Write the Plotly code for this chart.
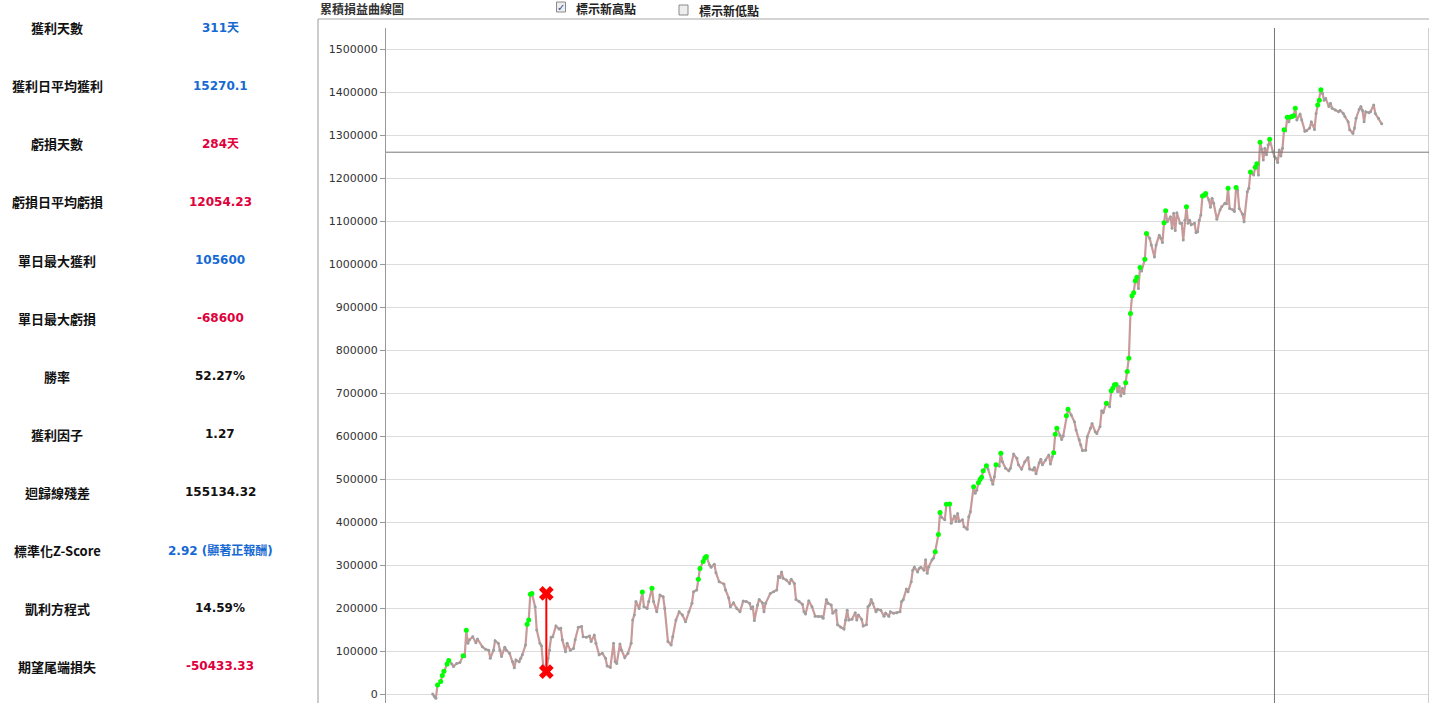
import plotly.graph_objects as go

# ---------------- data ----------------
stat_labels = ["獲利天數", "獲利日平均獲利", "虧損天數", "虧損日平均虧損", "單日最大獲利", "單日最大虧損",
               "勝率", "獲利因子", "迴歸線殘差", "標準化Z-Score", "凱利方程式", "期望尾端損失"]
stat_values = ["311天", "15270.1", "284天", "12054.23", "105600", "-68600",
               "52.27%", "1.27", "155134.32", "2.92 (顯著正報酬)", "14.59%", "-50433.33"]
stat_tone = ["pos", "pos", "neg", "neg", "pos", "neg", "neutral", "neutral", "neutral", "pos", "neutral", "neg"]

chart_title = "累積損益曲線圖"
opt_high = "標示新高點"
opt_low = "標示新低點"

days = [0, 1, 2, 3, 5, 6, 7, 9, 10, 12, 13, 15, 17, 19, 20, 21, 22, 23, 25, 27, 28, 31, 33, 35, 36, 38, 39, 41, 42, 43,
        45, 46, 48, 50, 51, 52, 54, 55, 56, 58, 59, 60, 61, 62, 64, 65, 67, 68, 69, 71, 72, 73, 74, 75, 77, 79, 80, 81,
        83, 84, 86, 88, 89, 91, 93, 94, 96, 98, 99, 101, 102, 104, 106, 108, 109, 111, 113, 114, 115, 117, 118, 120,
        122, 124, 125, 126, 127, 129, 131, 132, 134, 135, 137, 138, 140, 142, 144, 145, 147, 149, 150, 152, 154,
        156, 158, 160, 162, 163, 165, 166, 167, 169, 170, 171, 173, 174, 176, 177, 179, 182, 183, 185, 186, 188,
        190, 192, 194, 196, 198, 199, 200, 201, 203, 204, 206, 207, 208, 211, 213, 215, 216, 217, 218, 219, 221,
        223, 224, 226, 227, 229, 231, 232, 233, 235, 237, 239, 241, 243, 244, 246, 247, 249, 250, 252, 253, 255,
        257, 258, 259, 260, 262, 264, 265, 266, 268, 269, 271, 272, 273, 274, 275, 277, 278, 280, 282, 283, 285,
        286, 288, 290, 292, 293, 294, 296, 297, 299, 300, 301, 303, 304, 305, 307, 308, 309, 310, 312, 313, 314,
        316, 317, 318, 320, 321, 323, 324, 326, 327, 328, 329, 331, 332, 334, 335, 336, 338, 339, 340, 341, 342,
        343, 344, 346, 347, 349, 350, 351, 352, 354, 355, 356, 358, 360, 361, 363, 365, 366, 368, 370, 372, 373,
        375, 376, 377, 379, 380, 381, 383, 385, 386, 387, 388, 389, 390, 392, 393, 394, 396, 397, 399, 401, 402,
        404, 405, 406, 408, 409, 411, 412, 414, 415, 417, 418, 419, 421, 423, 424, 425, 426, 427, 428, 429, 430,
        431, 432, 433, 434, 435, 436, 437, 438, 439, 440, 441, 442, 443, 445, 446, 448, 449, 451, 452, 454, 455,
        456, 457, 458, 459, 461, 462, 463, 464, 465, 467, 468, 469, 470, 471, 472, 473, 474, 476, 477, 478, 479,
        480, 481, 482, 483, 485, 486, 487, 488, 490, 492, 493, 495, 496, 497, 498, 500, 501, 502, 503, 504, 506,
        507, 509, 510, 511, 513, 514, 515, 516, 517, 518, 519, 520, 521, 522, 523, 525, 526, 527, 528, 529, 530,
        531, 532, 533, 534, 535, 536, 537, 538, 539, 540, 542, 543, 545, 546, 548, 549, 551, 552, 553, 554, 555,
        556, 557, 558, 560, 561, 562, 564, 566, 567, 569, 570, 572, 573, 575, 576, 577, 579, 580, 581, 582, 583,
        585, 586, 588, 589, 591, 593]

equity = [0, -6000, -10000, 21000, 29000, 43000, 53000, 70000, 78000, 70000, 64000, 71000, 73000, 89000, 87000,
          148000, 118000, 126000, 133000, 119000, 128000, 110000, 104000, 102000, 83000, 102000, 124000, 118000,
          102000, 87000, 109000, 102000, 95000, 75000, 61000, 79000, 75000, 83000, 91000, 114000, 162000, 172000,
          232000, 234000, 203000, 149000, 118000, 112000, 67000, 52000, 83000, 102000, 132000, 133000, 158000,
          151000, 153000, 126000, 98000, 118000, 102000, 106000, 126000, 155000, 157000, 133000, 132000, 135000,
          122000, 137000, 118000, 91000, 95000, 83000, 65000, 62000, 118000, 75000, 71000, 116000, 102000, 85000,
          95000, 118000, 172000, 184000, 215000, 199000, 237000, 203000, 199000, 215000, 246000, 215000, 191000,
          230000, 226000, 199000, 122000, 114000, 133000, 172000, 191000,
          184000, 168000, 191000, 211000, 238000, 242000, 267000, 292000, 308000, 316000, 320000, 300000, 295000,
          302000, 282000, 261000, 256000, 242000, 223000, 203000, 212000, 199000, 191000, 216000, 215000, 211000,
          199000, 203000, 171000, 207000, 220000, 212000, 191000, 211000, 234000, 238000, 242000, 273000, 271000,
          284000, 269000, 265000, 257000, 267000, 257000, 220000, 215000, 209000, 191000, 186000, 217000, 203000,
          181000, 180000, 180000, 176000, 220000, 211000, 207000, 188000, 195000, 161000, 155000, 151000, 172000,
          195000, 172000, 174000, 189000, 172000, 184000, 174000, 158000, 161000, 203000, 207000, 220000, 211000,
          191000, 197000, 195000, 181000, 188000, 181000, 191000, 188000, 189000, 191000, 215000, 219000, 244000,
          238000, 261000, 288000, 295000, 284000, 292000,
          295000, 288000, 312000, 281000, 296000, 312000, 316000, 331000, 371000, 422000, 411000, 405000, 441000,
          442000, 397000, 414000, 401000, 420000, 401000, 405000, 389000, 383000, 412000, 424000, 482000, 467000,
          474000, 491000, 499000, 504000, 519000, 531000, 523000, 498000, 488000, 505000, 533000, 530000, 560000,
          540000, 525000, 519000, 525000, 558000, 548000, 533000, 523000, 540000, 550000, 523000, 521000, 527000,
          512000, 538000, 546000, 533000, 544000, 556000, 535000, 552000, 561000, 604000, 618000, 602000, 592000,
          600000, 647000, 662000, 649000, 633000, 614000, 591000, 579000, 566000, 567000, 598000, 618000, 629000,
          610000, 606000, 622000, 659000, 655000, 676000, 668000, 705000, 711000, 719000, 720000, 703000, 715000,
          693000, 711000, 699000, 724000,
          750000, 781000, 885000, 926000, 933000, 961000, 969000, 943000, 992000, 984000, 1011000, 1071000,
          1060000, 1044000, 1016000, 1044000, 1067000, 1060000, 1050000, 1096000, 1124000, 1098000, 1110000,
          1083000, 1118000, 1078000, 1119000, 1095000, 1095000, 1056000, 1102000, 1133000, 1095000, 1102000,
          1091000, 1095000, 1073000, 1075000, 1102000, 1114000, 1158000, 1160000, 1164000, 1149000, 1132000,
          1153000, 1141000, 1104000, 1126000, 1133000, 1141000, 1140000, 1176000, 1129000, 1126000, 1122000,
          1178000, 1172000, 1129000, 1116000, 1098000, 1168000, 1176000, 1214000, 1207000, 1225000, 1233000,
          1207000, 1283000, 1267000, 1242000, 1269000, 1254000, 1277000, 1290000, 1261000, 1250000, 1246000,
          1236000, 1265000, 1251000, 1269000, 1312000, 1310000, 1341000, 1331000, 1342000, 1343000, 1345000,
          1362000, 1335000, 1349000, 1335000, 1309000, 1310000, 1316000, 1331000, 1313000, 1350000, 1370000,
          1381000, 1405000, 1397000, 1381000, 1385000, 1366000, 1374000, 1362000, 1358000, 1354000, 1357000,
          1350000, 1343000, 1331000, 1312000, 1304000, 1316000, 1339000, 1360000, 1366000, 1357000, 1331000,
          1354000, 1352000, 1354000, 1370000, 1350000, 1339000, 1326000]

y_ticks = list(range(0, 1500001, 100000))
crosshair_day = 526
crosshair_value = 1260000

# ---------------- derived series ----------------
hi_x, hi_y = [], []
run_max = 0
for d, v in zip(days, equity):
    if v > run_max:
        hi_x.append(d)
        hi_y.append(v)
        run_max = v

peak = equity[0]
best = (0, None, None, None)
for d, v in zip(days, equity):
    if v > peak:
        peak = v
    if peak - v > best[0]:
        best = (peak - v, peak, d, v)
_, dd_peak, dd_day, dd_trough = best

# ---------------- layout geometry ----------------
W, H = 1429, 703
def px(x):
    return x / W
def py(y):
    return 1 - y / H

fig = go.Figure()

fig.add_trace(go.Scatter(
    x=days, y=equity, mode="lines+markers",
    line=dict(color="#c89a9a", width=2.2),
    marker=dict(color="#9e9e9e", size=3),
    hoverinfo="x+y", showlegend=False))

fig.add_trace(go.Scatter(
    x=hi_x, y=hi_y, mode="markers",
    marker=dict(color="#00ff00", size=5),
    hoverinfo="skip", showlegend=False))

fig.add_trace(go.Scatter(
    x=[dd_day, dd_day], y=[dd_peak, dd_trough], mode="lines+markers",
    line=dict(color="#ff0000", width=2),
    marker=dict(symbol="x", color="#ff0000", size=13),
    hoverinfo="skip", showlegend=False))

# plot area y-range: tick 0 at y=694 px, 1,500,000 at y=49 px
per_px = 1500000 / (694 - 49)
y_top_px, y_bot_px = 28, 703
y_range = [-(y_bot_px - 694) * per_px, (694 - y_top_px) * per_px]

x_left_px, x_right_px = 386, 1428
day_px = (1381.7 - 432.7) / 593
x_range = [-(432.7 - x_left_px) / day_px, 593 + (x_right_px - 1381.7) / day_px]

fig.update_layout(
    width=W, height=H,
    margin=dict(l=0, r=0, t=0, b=0),
    paper_bgcolor="white", plot_bgcolor="white",
    font=dict(family="DejaVu Sans", size=11, color="#333"),
    xaxis=dict(domain=[px(x_left_px), px(x_right_px)], range=x_range, visible=False, showgrid=False),
    yaxis=dict(domain=[0, py(y_top_px)], range=y_range, tickvals=y_ticks, tickformat="d",
               showgrid=True, gridcolor="#dcdcdc", gridwidth=1, zeroline=False,
               showline=True, linecolor="#999", linewidth=1,
               ticks="outside", ticklen=5, tickcolor="#999",
               tickfont=dict(family="DejaVu Sans", size=11, color="#333")),
)

shapes = []
# panel borders
shapes.append(dict(type="line", xref="paper", yref="paper", x0=px(318), x1=1, y0=py(19), y1=py(19),
                   line=dict(color="#a8a8a8", width=1)))
shapes.append(dict(type="line", xref="paper", yref="paper", x0=px(318), x1=px(318), y0=py(19), y1=0,
                   line=dict(color="#999", width=1)))
shapes.append(dict(type="line", xref="paper", yref="paper", x0=px(1428.5), x1=px(1428.5), y0=0, y1=py(y_top_px),
                   line=dict(color="#d0d0d0", width=1)))
# crosshair
shapes.append(dict(type="line", xref="x", yref="paper", x0=crosshair_day, x1=crosshair_day, y0=0, y1=py(y_top_px),
                   line=dict(color="#777", width=1)))
shapes.append(dict(type="line", xref="paper", yref="y", x0=px(x_left_px), x1=1, y0=crosshair_value, y1=crosshair_value,
                   line=dict(color="#777", width=1)))
# checkboxes
shapes.append(dict(type="rect", xref="paper", yref="paper", x0=px(556.5), x1=px(565.5), y0=py(12), y1=py(2),
                   line=dict(color="#8a8a8a", width=1), fillcolor="#eeeeee"))
shapes.append(dict(type="rect", xref="paper", yref="paper", x0=px(679), x1=px(688), y0=py(15), y1=py(5),
                   line=dict(color="#8a8a8a", width=1), fillcolor="#eeeeee"))
fig.update_layout(shapes=shapes)

ann = []
tone_color = {"pos": "#1669d2", "neg": "#e0003c", "neutral": "#111111"}
for i, (lab, val, tone) in enumerate(zip(stat_labels, stat_values, stat_tone)):
    yc = 28 + 58 * i
    ann.append(dict(x=px(57), y=py(yc), xref="paper", yref="paper", text="<b>%s</b>" % lab, showarrow=False,
                    xanchor="center", yanchor="middle",
                    font=dict(family="Noto Sans CJK TC", size=13, color="#111")))
    ann.append(dict(x=px(220), y=py(yc), xref="paper", yref="paper", text="<b>%s</b>" % val, showarrow=False,
                    xanchor="center", yanchor="middle",
                    font=dict(family="DejaVu Sans, Noto Sans CJK TC", size=12, color=tone_color[tone])))

ann.append(dict(x=px(318), y=py(8), xref="paper", yref="paper", text="<b>%s</b>" % chart_title, showarrow=False,
                xanchor="left", yanchor="middle", font=dict(family="Noto Sans CJK TC", size=12, color="#333")))
ann.append(dict(x=px(561), y=py(7.5), xref="paper", yref="paper", text="<b>✓</b>", showarrow=False,
                xanchor="center", yanchor="middle", font=dict(family="DejaVu Sans", size=10, color="#2b4f9a")))
ann.append(dict(x=px(574), y=py(8), xref="paper", yref="paper", text="<b>%s</b>" % opt_high, showarrow=False,
                xanchor="left", yanchor="middle", font=dict(family="Noto Sans CJK TC", size=12, color="#222")))
ann.append(dict(x=px(697), y=py(10.5), xref="paper", yref="paper", text="<b>%s</b>" % opt_low, showarrow=False,
                xanchor="left", yanchor="middle", font=dict(family="Noto Sans CJK TC", size=12, color="#222")))
fig.update_layout(annotations=ann)

fig.write_html("out.html", config={"displayModeBar": False},
               post_script="document.body.style.margin='0';document.body.style.overflow='hidden';")
